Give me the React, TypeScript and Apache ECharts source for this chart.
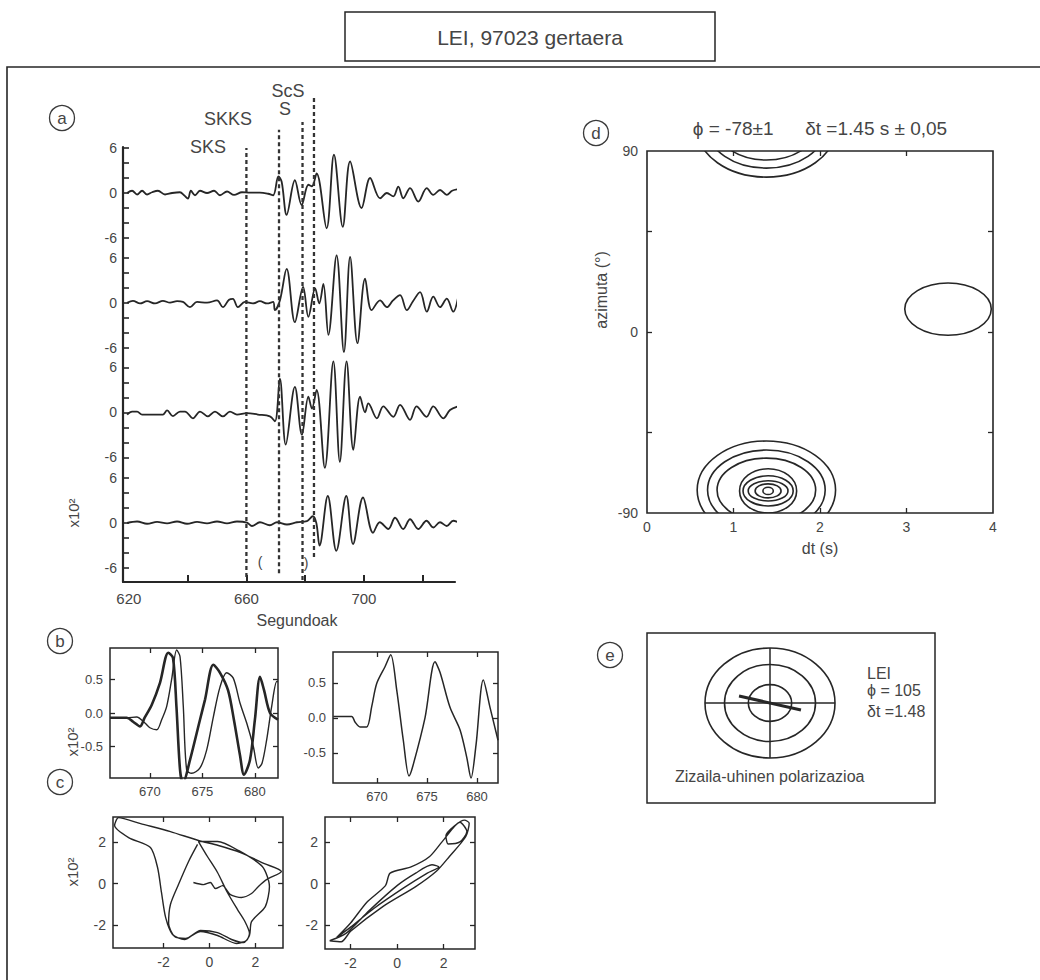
import React, { useEffect, useRef } from 'react';
import * as echarts from 'echarts';

const FONT = "'Liberation Sans', Arial, Helvetica, sans-serif";
const INK = '#262626';
const TXT = '#454545';

// ===== (a) seismograms: time (s) vs amplitude (x10^2) =====
const secRange = [618, 731];
const secLabels = [620, 660, 700];
const secTicks = [640, 660, 680, 700, 720];
const ampLabels = [-6, 0, 6];

const trace1: [number, number][] = [
  [619.4, 0], [621.1, 0.3], [622.8, -0.2], [624.5, 0.3], [626.2, -0.2], [627.9, 0.1], [629.9, 0.3], [632.3, -0.2],
  [634.7, 0], [637.4, 0.1], [638.8, -0.3], [640.1, -0.75], [641.1, 0.3], [642.5, -0.3], [644.2, 0.3], [646.6, 0],
  [649.0, 0.3], [651.0, -0.3], [653.4, 0.2], [655.8, -0.25], [658.5, 0.1], [661.2, 0.05], [664.6, 0.05], [667.4, -0.1],
  [669.1, -0.3], [670.9, 2.2], [672.0, 1.5], [673.7, -2.9], [676.5, 1.7], [678.8, -1.6], [681.1, 1.1], [682.3, 0.9],
  [683.9, 2.6], [687.3, -4.7], [689.8, 5.1], [692.8, -4.5], [695.3, 4.2], [699.2, -2.0], [702.1, 2.0], [705.5, -0.7],
  [707.8, 0], [710.0, -0.45], [711.7, 0.85], [713.4, -0.7], [715.7, 0.65], [718.5, -1.15], [721.4, 0.65], [723.6, -0.25],
  [725.9, 0.4], [728.2, -0.25], [730.0, 0.3], [732.0, 0.5],
];
const trace2: [number, number][] = [
  [619.4, 0], [621.4, 0.25], [623.8, -0.1], [626.2, 0.2], [628.9, -0.1], [631.6, 0.25], [634.0, 0], [636.4, 0.2],
  [638.4, 0.1], [640.8, -0.6], [643.2, 0.1], [646.6, 0.0], [650.0, 0.3], [652.0, -0.6], [654.1, 0.4], [655.4, 0.5],
  [657.1, -0.6], [659.5, 0.1], [662.2, -0.1], [664.6, 0.2], [667.0, -0.1], [669.1, 0.1], [669.7, -1.0], [671.4, 0.3],
  [673.7, 4.5], [676.5, -2.6], [679.3, 2.1], [681.1, -1.9], [683.4, 1.9], [684.8, -0.1], [686.2, 2.5], [687.9, -4.3],
  [690.7, 6.3], [693.2, -6.6], [695.3, 6.1], [697.8, -5.4], [700.4, 3.2], [702.6, -1.0], [705.5, 0.3], [707.8, -0.6],
  [709.9, 0.3], [712.3, 1.0], [714.6, -1.0], [716.7, 0.2], [719.1, 1.4], [721.4, -1.2], [723.6, 0.8], [725.9, -0.6],
  [728.2, 0.55], [730.4, -1.2], [732.1, 0.8],
];
const trace3: [number, number][] = [
  [619.4, -0.3], [621.1, 0.1], [622.8, 0.1], [624.5, -0.3], [627.9, -0.3], [631.6, -0.3], [633.0, 0.25], [635.0, -0.5],
  [637.4, 0.1], [639.1, 0.1], [641.8, -0.8], [644.2, 0.1], [646.9, -0.55], [649.3, 0.1], [652.0, -0.55], [654.4, 0.1],
  [656.8, -0.3], [660.2, -0.1], [663.9, -0.3], [668.0, -0.55], [669.7, -1.2], [671.4, 4.5], [673.4, -4.3], [676.5, 3.4],
  [678.9, -3.0], [681.1, 2.1], [682.3, 0.5], [683.9, 3.0], [686.7, -7.4], [689.6, 6.8], [691.8, -6.6], [694.1, 6.8],
  [696.4, -5.0], [698.7, 2.1], [700.4, 0], [701.5, 1.2], [704.4, -0.8], [706.6, 0.8], [710.0, -0.6], [712.3, 1.0],
  [715.7, -1.0], [717.9, 0.8], [721.3, -0.6], [723.6, 0.8], [727.0, -0.8], [729.3, 0.3], [732.1, 0.8],
];
const trace4: [number, number][] = [
  [619.4, 0], [622.8, 0.2], [626.2, -0.1], [629.6, 0.15], [633.0, -0.05], [636.4, 0.2], [639.8, -0.1], [643.2, 0.15],
  [646.6, -0.05], [650.0, 0.2], [653.4, -0.05], [656.8, 0.2], [660.2, 0.05], [661.9, -0.4], [664.6, 0.1], [668.0, -0.3],
  [670.4, 0.1], [673.8, -0.2], [677.2, 0.1], [680.6, 0.25], [682.6, 0.9], [683.8, 0.0], [684.9, -3.0], [687.7, 3.6],
  [690.6, -3.7], [694.0, 3.6], [696.3, -2.8], [699.7, 3.4], [703.1, -1.3], [705.4, 0.1], [708.3, -0.8], [710.6, 0.7],
  [713.4, -0.8], [715.7, 0.5], [718.5, -0.8], [721.3, 0.3], [723.6, -0.6], [725.9, 0.1], [728.2, -0.4], [730.4, 0.3],
  [732.1, 0.1],
];
const traces = [trace1, trace2, trace3, trace4];

const phaseNames = ['SKS', 'SKKS', 'S', 'ScS'];
const phaseTimes = [660.0, 671.1, 679.1, 683.0];

// ===== (b) zoomed waveforms =====
const bTimeLabels = [670, 675, 680];
const bAmpLabels = [-0.5, 0, 0.5];
const bLeftThick: [number, number][] = [
  [666.2, -0.07], [667.8, -0.07], [668.4, -0.13], [669.06, -0.2], [669.5, -0.07], [670.17, 0.12], [670.96, 0.45],
  [671.75, 0.9], [672.2, 0.82], [672.53, 0.09], [672.87, -0.85], [673.15, -1.05], [673.82, -0.7], [674.77, -0.1],
  [675.25, 0.2], [676.04, 0.72], [676.68, 0.6], [677.44, 0.34], [678.0, -0.1], [678.58, -0.63], [678.96, -0.92],
  [679.53, -0.7], [680.0, -0.1], [680.49, 0.54], [680.87, 0.34], [681.44, 0.0], [682.2, -0.1],
];
const bLeftThin: [number, number][] = [
  [666.2, -0.07], [667.8, -0.07], [668.74, -0.06], [669.53, -0.15], [670.0, -0.22], [670.65, -0.25], [671.12, -0.1],
  [671.6, 0.1], [672.07, 0.5], [672.55, 0.94], [672.87, 0.84], [673.18, 0.1], [673.5, -0.85], [673.98, -0.9],
  [674.77, -0.82], [675.41, -0.55], [676.04, -0.06], [676.68, 0.39], [677.31, 0.6], [677.94, 0.52], [678.58, 0.15],
  [679.22, -0.15], [679.85, -0.5], [680.32, -0.82], [680.68, -0.75], [681.12, -0.4], [681.6, 0.1], [682.08, 0.47],
  [682.2, 0.47],
];
const bRight: [number, number][] = [
  [665.63, 0.02], [667.47, 0.02], [667.8, -0.06], [668.3, -0.13], [668.97, -0.13], [669.47, 0.16], [669.97, 0.49],
  [670.8, 0.73], [671.37, 0.9], [671.97, 0.4], [672.63, -0.32], [673.2, -0.83], [673.6, -0.68], [674.8, 0.0],
  [675.8, 0.8], [676.3, 0.65], [677.3, 0.15], [678.3, -0.17], [678.97, -0.56], [679.4, -0.86], [679.9, -0.39],
  [680.63, 0.54], [681.3, 0.15], [682.1, -0.32],
];

// ===== (c) particle motion =====
const cLabels = [-2, 0, 2];
const cLeft: [number, number][] = [
  [-0.7, 0.05], [-0.26, -0.05], [0.04, 0.05], [0.26, -0.24], [0.57, -0.1], [0.91, -0.53], [1.39, -0.67], [1.83, -0.48],
  [2.13, -0.14], [2.48, 0.19], [3.13, 0.58], [2.39, 0.96], [1.35, 1.49], [0.39, 1.83], [-0.48, 2.07], [-1.7, 2.5],
  [-3.0, 2.88], [-3.96, 3.17], [-4.13, 2.79], [-3.52, 2.21], [-2.57, 1.73], [-2.26, 0.77], [-2.09, -0.43], [-1.91, -1.63],
  [-1.61, -2.45], [-1.09, -2.69], [-0.39, -2.26], [0.35, -2.36], [0.96, -2.69], [1.48, -2.84], [1.74, -2.5], [1.83, -1.83],
  [2.43, -1.11], [2.61, -0.14], [2.3, 0.82], [1.26, 1.59], [0.35, 2.02], [-0.48, 2.02], [-0.09, 1.3], [0.35, 0.53],
  [0.78, -0.43], [1.22, -1.25], [1.52, -1.78], [1.74, -2.4], [1.61, -2.74], [1.17, -2.88], [0.35, -2.5], [-0.39, -2.31],
  [-1.04, -2.64], [-1.52, -2.55], [-1.78, -1.92], [-1.7, -1.01], [-1.35, -0.05], [-0.91, 1.06], [-0.52, 1.88],
];
const cRight: [number, number][] = [
  [-2.9, -2.75], [-2.4, -2.8], [-2.0, -2.3], [-0.6, -1.1], [0.8, -0.15], [1.7, 0.6], [2.25, 1.3], [2.95, 2.25],
  [3.1, 2.9], [2.9, 3.05], [2.5, 2.8], [2.1, 2.3], [2.2, 1.9], [2.7, 2.0], [3.0, 2.5], [2.7, 2.95], [2.0, 2.1],
  [1.4, 1.3], [0.6, 0.8], [-0.3, 0.5], [-0.5, -0.1], [-1.3, -0.9], [-2.0, -1.9], [-2.6, -2.6], [-2.0, -2.1],
  [-1.0, -1.2], [0.3, -0.2], [1.3, 0.5], [1.8, 0.8], [1.5, 0.9], [0.8, 0.5], [0.0, -0.1], [-1.2, -1.3], [-2.2, -2.4],
  [-2.9, -2.75],
];

// ===== (d) misfit contours: dt (s) vs azimuth (deg) =====
const dtLabels = [0, 1, 2, 3, 4];
const dtTicks = [1, 2, 3];
const azTicks = [-50, 0, 50];
// [centre dt, centre azimuth, half-width dt, half-height azimuth]
const dContours: [number, number, number, number][] = [
  [1.38, -78.6, 0.8, 24.4], [1.38, -78.6, 0.68, 19.9], [1.38, -78.6, 0.57, 15.9],
  [1.4, -79, 0.33, 11], [1.4, -79, 0.29, 7.5], [1.4, -79, 0.23, 5.0], [1.4, -79, 0.15, 3.5], [1.4, -79, 0.06, 1.8],
  [1.38, 101.4, 0.8, 24.4], [1.38, 101.4, 0.68, 19.9], [1.38, 101.4, 0.57, 15.9],
  [3.48, 11.4, 0.5, 13],
];
const dResult = { phi: '-78±1', dt: '1.45 s ± 0,05' };

// ===== (e) polarisation =====
const eStation = 'LEI';
const ePhi = 105;
const eDt = 1.48;
const eRings = [1, 2.1, 3];

const ellipseItem = (params: any, api: any) => {
  const c = api.coord([api.value(0), api.value(1)]);
  const s = api.size([api.value(2), api.value(3)]);
  return {
    type: 'ellipse',
    shape: { cx: c[0], cy: c[1], rx: s[0], ry: s[1] },
    style: { fill: 'none', stroke: INK, lineWidth: 1.6 },
  };
};

function frameX(gridIndex: number, min: number, max: number, ticks: number[], labels: number[] | null, position = 'bottom', fs = 13) {
  return {
    type: 'value', gridIndex, min, max, position,
    axisLine: { show: false, onZero: false }, splitLine: { show: false },
    axisTick: { show: true, inside: true, length: 5, customValues: ticks, lineStyle: { color: INK, width: 1.3 } },
    axisLabel: labels
      ? { show: true, customValues: labels, fontSize: fs, color: TXT, fontFamily: FONT, margin: 7 }
      : { show: false },
  };
}
function frameY(gridIndex: number, min: number, max: number, ticks: number[], labels: number[] | null, position = 'left', fs = 13, fmt?: (v: number) => string) {
  return {
    type: 'value', gridIndex, min, max, position,
    axisLine: { show: false, onZero: false }, splitLine: { show: false },
    axisTick: { show: true, inside: true, length: 5, customValues: ticks, lineStyle: { color: INK, width: 1.3 } },
    axisLabel: labels
      ? { show: true, customValues: labels, fontSize: fs, color: TXT, fontFamily: FONT, margin: 7, formatter: fmt }
      : { show: false },
  };
}

const A_ZEROS = [193, 302.7, 412.3, 523];
const PHASE_SPAN = [[0.01, 0.882], [0.018, 0.919], [0.004, 0.935], [0.051, 0.984]];
const PHASE_LABEL_POS = [[208, 147], [228, 119], [285, 109], [288, 91]];

const App: React.FC = () => {
  const ref = useRef<HTMLDivElement>(null);
  useEffect(() => {
    if (!ref.current) return;
    const chart = echarts.init(ref.current, undefined, { renderer: 'svg' });

    const grids: any[] = [
      { left: 123, top: 147, width: 332, height: 435 }, // 0 a base
      ...A_ZEROS.map((z) => ({ left: 123, top: z - 45, width: 332, height: 90 })), // 1-4 traces
      { left: 123, top: 90, width: 332, height: 492 }, // 5 phase lines
      { left: 647, top: 151, width: 346, height: 362, show: true, borderColor: INK, borderWidth: 1.6 }, // 6 d
      { left: 110, top: 648, width: 168, height: 130, show: true, borderColor: INK, borderWidth: 1.5 }, // 7 b1
      { left: 333, top: 652, width: 165, height: 131, show: true, borderColor: INK, borderWidth: 1.5 }, // 8 b2
      { left: 113, top: 817, width: 170, height: 131, show: true, borderColor: INK, borderWidth: 1.5 }, // 9 c1
      { left: 325, top: 817, width: 150, height: 132, show: true, borderColor: INK, borderWidth: 1.5 }, // 10 c2
      { left: 705, top: 648, width: 130, height: 110 }, // 11 e
    ];

    const hiddenX = (g: number, min: number, max: number) => ({ type: 'value', gridIndex: g, min, max, show: false });
    const hiddenY = hiddenX;

    const xAxes: any[] = [
      {
        type: 'value', gridIndex: 0, min: secRange[0], max: secRange[1],
        axisLine: { show: true, onZero: false, lineStyle: { color: INK, width: 2.2 } }, splitLine: { show: false },
        axisTick: { show: true, inside: true, length: 7, customValues: secTicks, lineStyle: { color: INK, width: 2 } },
        axisLabel: { show: true, customValues: secLabels, fontSize: 15, color: TXT, fontFamily: FONT, margin: 9 },
      },
      hiddenX(1, secRange[0], secRange[1]), hiddenX(2, secRange[0], secRange[1]),
      hiddenX(3, secRange[0], secRange[1]), hiddenX(4, secRange[0], secRange[1]),
      hiddenX(5, secRange[0], secRange[1]),
      frameX(6, 0, 4, dtTicks, dtLabels, 'bottom', 14), // 6
      frameX(6, 0, 4, dtTicks, null, 'top'), // 7
      frameX(7, 666.2, 682.2, bTimeLabels, bTimeLabels), // 8
      frameX(7, 666.2, 682.2, bTimeLabels, null, 'top'), // 9
      frameX(8, 665.6, 682.1, bTimeLabels, bTimeLabels), // 10
      frameX(8, 665.6, 682.1, bTimeLabels, null, 'top'), // 11
      frameX(9, -4.2, 3.2, cLabels, cLabels, 'bottom', 14), // 12
      frameX(9, -4.2, 3.2, cLabels, null, 'top'), // 13
      frameX(10, -3.1, 3.35, cLabels, cLabels, 'bottom', 14), // 14
      frameX(10, -3.1, 3.35, cLabels, null, 'top'), // 15
      hiddenX(11, -3, 3), // 16
    ];

    const traceY = (g: number) => ({
      type: 'value', gridIndex: g, min: -6, max: 6, interval: 2,
      axisLine: { show: false, onZero: false }, splitLine: { show: false },
      axisTick: { show: true, inside: true, length: 6, lineStyle: { color: INK, width: 1.6 } },
      axisLabel: {
        show: true, fontSize: 14, color: TXT, fontFamily: FONT, margin: 6, showMinLabel: true, showMaxLabel: true,
        formatter: (v: number) => (ampLabels.indexOf(v) >= 0 ? String(v) : ''),
      },
    });
    const fmt1 = (v: number) => v.toFixed(1);
    const dY = frameY(6, -90, 90, azTicks, null, 'left');
    const yAxes: any[] = [
      {
        type: 'value', gridIndex: 0, min: 0, max: 1,
        axisLine: { show: true, onZero: false, lineStyle: { color: INK, width: 2.2 } },
        axisTick: { show: false }, axisLabel: { show: false }, splitLine: { show: false },
      },
      traceY(1), traceY(2), traceY(3), traceY(4),
      hiddenY(5, 0, 1),
      { ...dY, interval: 90, axisLabel: { show: true, fontSize: 14, color: TXT, fontFamily: FONT, margin: 9 } }, // 6
      frameY(6, -90, 90, azTicks, null, 'right'), // 7
      frameY(7, -0.97, 0.97, bAmpLabels, bAmpLabels, 'left', 13, fmt1), // 8
      frameY(7, -0.97, 0.97, bAmpLabels, null, 'right'), // 9
      frameY(8, -0.93, 0.94, bAmpLabels, bAmpLabels, 'left', 13, fmt1), // 10
      frameY(8, -0.93, 0.94, bAmpLabels, null, 'right'), // 11
      frameY(9, -3.1, 3.2, cLabels, cLabels, 'left', 14), // 12
      frameY(9, -3.1, 3.2, cLabels, null, 'right'), // 13
      frameY(10, -3.15, 3.2, cLabels, cLabels, 'left', 14), // 14
      frameY(10, -3.15, 3.2, cLabels, null, 'right'), // 15
      hiddenY(11, -3, 3), // 16
    ];

    const wave = (data: any, xi: number, yi: number, width = 1.6, smooth: any = 0.35, clip = false) => ({
      type: 'line', xAxisIndex: xi, yAxisIndex: yi, data, smooth, symbol: 'none', clip,
      lineStyle: { color: INK, width }, silent: true,
    });

    const series: any[] = [];
    traces.forEach((tr, i) => series.push(wave(tr, i + 1, i + 1, 1.8, 0.35, false)));
    phaseTimes.forEach((t, i) => {
      series.push({
        type: 'line', xAxisIndex: 5, yAxisIndex: 5, symbol: 'none', silent: true,
        data: [[t, PHASE_SPAN[i][0]], [t, PHASE_SPAN[i][1]]],
        lineStyle: { color: '#333', width: 2.3, type: [4, 3] },
      });
    });
    series.push({
      type: 'custom', xAxisIndex: 6, yAxisIndex: 6, data: dContours, renderItem: ellipseItem, clip: true, silent: true,
    });
    series.push(wave(bLeftThin, 8, 8, 1.4, 0.3, true));
    series.push(wave(bLeftThick, 8, 8, 2.6, 0.3, true));
    series.push(wave(bRight, 10, 10, 1.5, 0.3, true));
    series.push(wave(cLeft, 12, 12, 1.4, 0.25, true));
    series.push(wave(cRight, 14, 14, 1.4, 0.25, true));

    // (e) polarisation diagram
    const rMax = eRings[eRings.length - 1];
    series.push({
      type: 'custom', xAxisIndex: 16, yAxisIndex: 16, silent: true,
      data: eRings.map((r) => [0, 0, r, r]), renderItem: ellipseItem,
    });
    series.push(wave([[-rMax, 0], [rMax, 0]], 16, 16, 1.5, false));
    series.push(wave([[0, -rMax], [0, rMax]], 16, 16, 1.5, false));
    const az = (ePhi * Math.PI) / 180;
    const ex = eDt * Math.sin(az);
    const ey = eDt * Math.cos(az);
    series.push(wave([[-ex, -ey], [ex, ey]], 16, 16, 3, false));

    const txt = (text: string, x: number, y: number, fontSize: number, align = 'center', extra: any = {}) => ({
      type: 'text', x, y, silent: true, ...extra,
      style: { text, fontSize, fontFamily: FONT, fill: TXT, align, verticalAlign: 'middle', textAlign: align, textVerticalAlign: 'middle' },
    });
    const badge = (letter: string, cx: number, cy: number) => [
      { type: 'circle', shape: { cx, cy, r: 12.5 }, style: { fill: 'none', stroke: '#3a3a3a', lineWidth: 1.3 }, silent: true },
      txt(letter, cx, cy, 17),
    ];

    const graphic: any[] = [
      { type: 'rect', shape: { x: 345, y: 12, width: 370, height: 49 }, style: { fill: 'none', stroke: INK, lineWidth: 1.5 }, silent: true },
      txt('LEI, 97023 gertaera', 530, 37, 21),
      { type: 'polyline', shape: { points: [[7, 990], [7, 67], [1045, 67]] }, style: { fill: 'none', stroke: INK, lineWidth: 1.6 }, silent: true },
      ...badge('a', 62, 118),
      ...badge('b', 60, 641),
      ...badge('c', 60, 782),
      ...badge('d', 596, 133),
      ...badge('e', 610, 655),
      ...phaseNames.map((n, i) => txt(n, PHASE_LABEL_POS[i][0], PHASE_LABEL_POS[i][1], 18)),
      txt('Segundoak', 297, 620, 16),
      txt('(', 260, 562, 14),
      txt(')', 306, 563, 14),
      txt('x10²', 73, 513, 15, 'center', { rotation: Math.PI / 2 }),
      txt('x10²', 72, 742, 15, 'center', { rotation: Math.PI / 2 }),
      txt('x10²', 72, 872, 15, 'center', { rotation: Math.PI / 2 }),
      txt(`ϕ = ${dResult.phi}      δt =${dResult.dt}`, 820, 128, 19),
      txt('azimuta (°)', 601, 290, 16, 'center', { rotation: Math.PI / 2 }),
      txt('dt (s)', 820, 548, 16),
      { type: 'rect', shape: { x: 647, y: 633, width: 288, height: 170 }, style: { fill: 'none', stroke: INK, lineWidth: 1.5 }, silent: true },
      txt(eStation, 867, 673, 16, 'left'),
      txt(`ϕ = ${ePhi}`, 867, 690, 16, 'left'),
      txt(`δt =${eDt}`, 867, 711, 16, 'left'),
      txt('Zizaila-uhinen polarizazioa', 675, 776, 16, 'left'),
    ];

    chart.setOption({
      animation: false,
      backgroundColor: '#ffffff',
      grid: grids,
      xAxis: xAxes,
      yAxis: yAxes,
      series,
      graphic,
    });
    return () => chart.dispose();
  }, []);
  return <div ref={ref} style={{ position: 'absolute', left: 0, top: 0, width: 1040, height: 980 }} />;
};

export default App;
